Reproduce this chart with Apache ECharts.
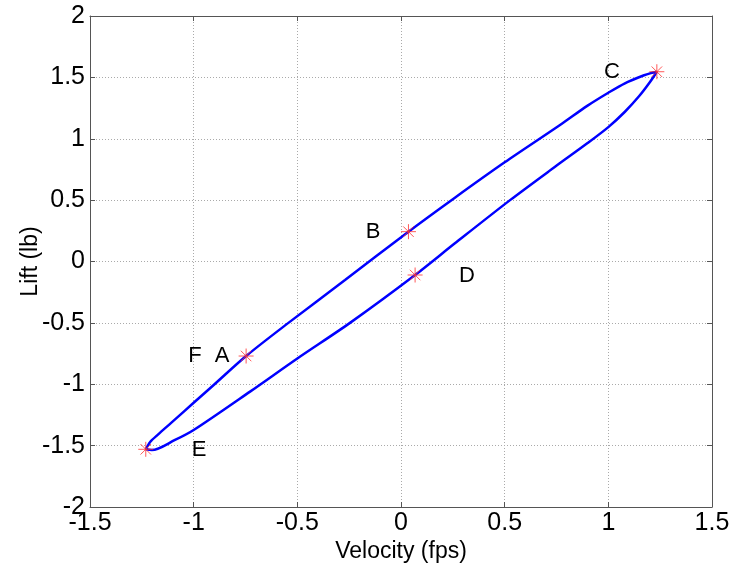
<!DOCTYPE html>
<html>
<head>
<meta charset="utf-8">
<script src="https://cdn.jsdelivr.net/npm/echarts@6/dist/echarts.min.js"></script>
<style>html,body{margin:0;padding:0;background:#fff;}#chart{width:730px;height:568px;}</style>
</head>
<body>
<div id="chart"></div>
<script>
// Tick values
var xTicks = [-1.5, -1, -0.5, 0, 0.5, 1, 1.5];
var yTicks = [-2, -1.5, -1, -0.5, 0, 0.5, 1, 1.5, 2];

// Upper branch (E -> A -> B -> C): [velocity, lift]
var upperBranch = [
  [-1.231, -1.530], [-1.21, -1.47], [-1.171, -1.408], [-1.106, -1.311], [-1.0, -1.151],
  [-0.902, -1.004], [-0.747, -0.770], [-0.543, -0.50], [-0.270, -0.151], [0.036, 0.243],
  [0.26, 0.52], [0.50, 0.808], [0.767, 1.112], [0.90, 1.27], [1.0, 1.375], [1.08, 1.452],
  [1.169, 1.515], [1.205, 1.535], [1.234, 1.546]
];
// Lower branch (C -> D -> E)
var lowerBranch = [
  [1.234, 1.546], [1.20, 1.46], [1.15, 1.35], [1.08, 1.22], [1.0, 1.095],
  [0.90, 0.965], [0.743, 0.772], [0.526, 0.50], [0.26, 0.148], [0.068, -0.110],
  [-0.246, -0.50], [-0.50, -0.79], [-0.728, -1.06], [-1.0, -1.373], [-1.09, -1.454],
  [-1.202, -1.536], [-1.231, -1.530]
];
// Marked points (red asterisks)
var markedPoints = [
  [-0.747, -0.770], [0.036, 0.243], [1.234, 1.546], [0.068, -0.110], [-1.231, -1.530]
];
// Point labels
var labelNames = ['C', 'B', 'D', 'F', 'A', 'E'];
var labelPos = [
  [1.018, 1.544], [-0.135, 0.240], [0.318, -0.118], [-0.994, -0.770], [-0.863, -0.770], [-0.974, -1.536]
];

var loopData = upperBranch.concat(lowerBranch.slice(1));
var labelData = labelNames.map(function (n, i) { return { value: labelPos[i], name: n }; });

var font = 'Liberation Sans, Arial, sans-serif';
var chart = echarts.init(document.getElementById('chart'), null, { renderer: 'canvas' });

function xAx(pos, showLabel) {
  return {
    type: 'value', position: pos, min: xTicks[0], max: xTicks[xTicks.length - 1],
    interval: xTicks[1] - xTicks[0],
    axisLine: { show: true, onZero: false, lineStyle: { color: '#555', width: 1 } },
    axisTick: { show: true, inside: true, length: 5, lineStyle: { color: '#555' } },
    axisLabel: { show: showLabel, color: '#000', fontSize: 25, fontFamily: font, margin: 4 },
    splitLine: { show: showLabel, lineStyle: { color: '#aaa', type: [1, 2], width: 1 } }
  };
}
function yAx(pos, showLabel) {
  return {
    type: 'value', position: pos, min: yTicks[0], max: yTicks[yTicks.length - 1],
    interval: yTicks[1] - yTicks[0],
    axisLine: { show: true, onZero: false, lineStyle: { color: '#555', width: 1 } },
    axisTick: { show: true, inside: true, length: 5, lineStyle: { color: '#555' } },
    axisLabel: { show: showLabel, color: '#000', fontSize: 25, fontFamily: font, margin: 5 },
    splitLine: { show: showLabel, lineStyle: { color: '#aaa', type: [1, 2], width: 1 } }
  };
}

var xa = xAx('bottom', true);
xa.name = 'Velocity (fps)'; xa.nameLocation = 'middle'; xa.nameGap = 33; xa.nameMoveOverlap = false;
xa.nameTextStyle = { color: '#000', fontSize: 23, fontFamily: font };
var ya = yAx('left', true);
ya.name = 'Lift (lb)'; ya.nameLocation = 'middle'; ya.nameGap = 48; ya.nameMoveOverlap = false;
ya.nameTextStyle = { color: '#000', fontSize: 23, fontFamily: font };

chart.setOption({
  animation: false,
  backgroundColor: '#fff',
  grid: { left: 90, right: 18, top: 16, bottom: 61, outerBoundsMode: 'none', containLabel: false },
  xAxis: [xa, xAx('top', false)],
  yAxis: [ya, yAx('right', false)],
  series: [
    {
      type: 'line', data: loopData, smooth: 0.3, showSymbol: false,
      lineStyle: { color: '#0000ff', width: 2.5 }, z: 3
    },
    {
      type: 'scatter', data: markedPoints,
      symbol: 'path://M10,0 L10,20 M0,10 L20,10 M3,3 L17,17 M3,17 L17,3',
      symbolSize: 15,
      itemStyle: { color: 'rgba(0,0,0,0)', borderColor: '#ff3030', borderWidth: 1 },
      z: 4
    },
    {
      type: 'scatter', data: labelData, symbolSize: 0,
      itemStyle: { opacity: 1 },
      label: { show: true, position: 'inside', formatter: '{b}', color: '#000', fontSize: 22, fontFamily: font },
      z: 5
    }
  ]
});
</script>
</body>
</html>
